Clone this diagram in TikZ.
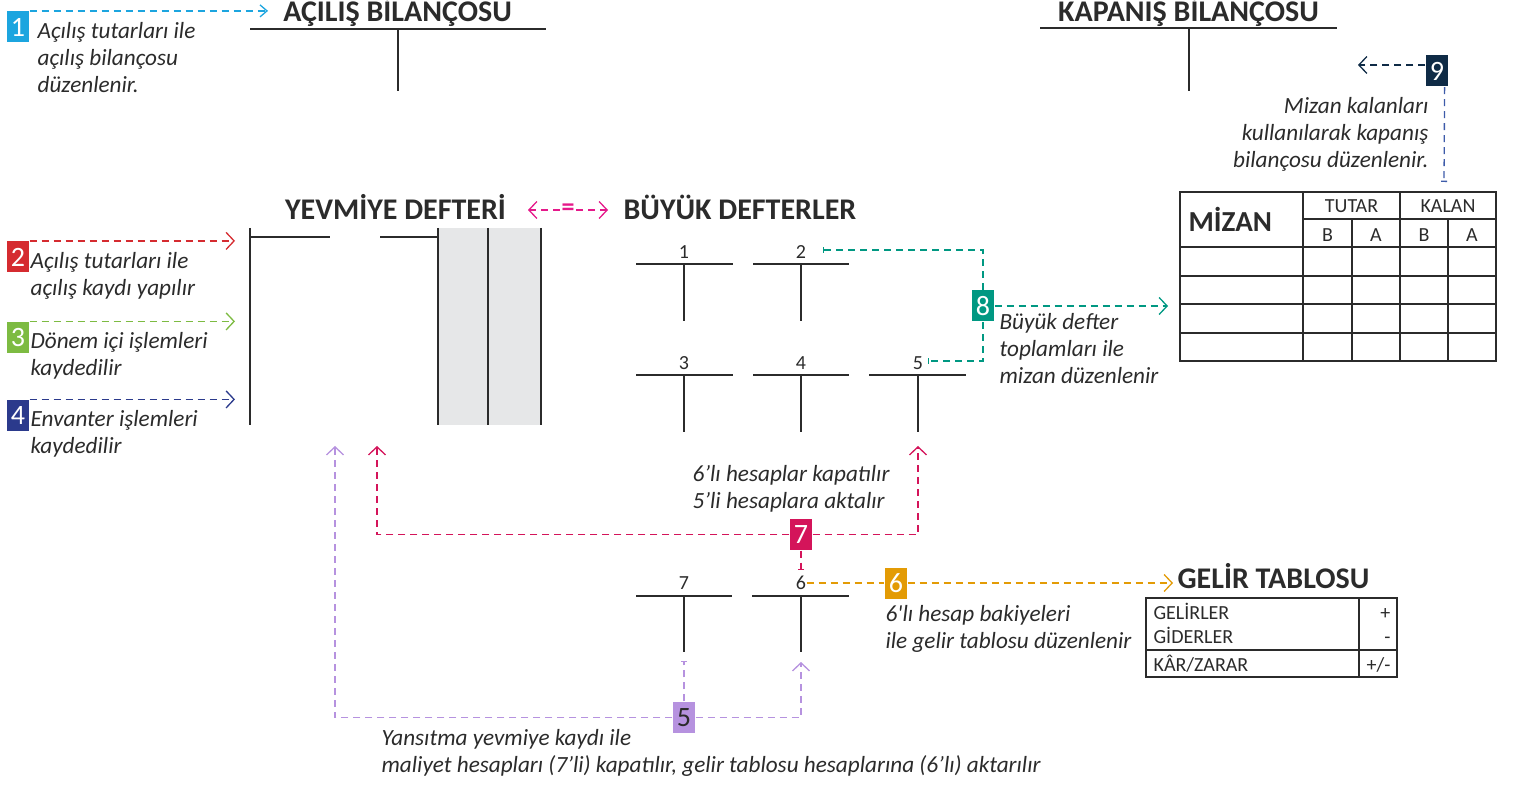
\documentclass[tikz,border=0pt]{standalone}
\usepackage{fontspec}
\setmainfont{Carlito}
\usetikzlibrary{arrows.meta, positioning}

\definecolor{inkgrey}{HTML}{2B2B2B}
\definecolor{jgrey}{HTML}{E6E7E8}
\definecolor{cyanB}{HTML}{1CA5DF}
\definecolor{redB}{HTML}{D52B30}
\definecolor{greenB}{HTML}{7DBB42}
\definecolor{blueB}{HTML}{2B3A8C}
\definecolor{magB}{HTML}{E5198A}
\definecolor{tealB}{HTML}{009882}
\definecolor{pinkB}{HTML}{D4145A}
\definecolor{orangeB}{HTML}{E39B05}
\definecolor{lavB}{HTML}{B692DF}
\definecolor{navyB}{HTML}{0F2B46}
\definecolor{navyL}{HTML}{3D5BA9}

\begin{document}
\begin{tikzpicture}[x=0.5pt, y=-0.5pt, line width=0.6pt,
    >={Straight Barb[length=4pt,width=8.5pt]},
    badge/.style={fill=#1, text=white, minimum width=11pt, minimum height=15.5pt, inner sep=0pt, font=\fontsize{14}{14}\selectfont},
    note/.style={font=\itshape\fontsize{11.6}{13.5}\selectfont, text=inkgrey, align=left, anchor=base west, inner sep=0pt},
    heading/.style={font=\bfseries\fontsize{15}{16}\selectfont, text=inkgrey, inner sep=0pt},
    celltext/.style={font=\fontsize{10}{11}\selectfont, text=inkgrey, inner sep=0pt},
    flowline/.style={draw=#1, line width=0.65pt, dash pattern=on 3.5pt off 2.5pt},
    tline/.style={draw=inkgrey, line width=1pt},
    tabline/.style={draw=inkgrey, line width=0.75pt}]
    \useasboundingbox (0,0) rectangle (1514,785);

    % Acilis bilancosu
    \node[heading, anchor=base] (acilisT) at (397.5,22) {AÇILIŞ BİLANÇOSU};
    \draw[tline] (250,29) -- (546,29);
    \draw[tline] (398,29) -- (398,91);
    \node[badge=cyanB] (b1) at (18,27) {1};
    \coordinate (acilisIn) at (268,13);
    \draw[flowline=cyanB, -{Straight Barb[length=3.5pt,width=6pt]}] (b1.north east) -- (b1.north east -| acilisIn);
    \node[note] (n1) at (37,92.5) {Açılış tutarları ile\\açılış bilançosu\\düzenlenir.};

    % Kapanis bilancosu
    \node[heading, anchor=base] (kapanisT) at (1188.5,22) {KAPANIŞ BİLANÇOSU};
    \draw[tline] (1040,28) -- (1337,28);
    \draw[tline] (1189,28) -- (1189,91);
    \node[badge=navyB] (b9) at (1437,71) {9};
    \coordinate (kapanisIn) at (1358,65);
    \coordinate (mizanTop) at (1444,182);
    \draw[flowline=navyB, ->] ([yshift=3pt]b9.west) -- ([yshift=3pt]b9.west -| kapanisIn);
    \draw[flowline=navyL, -{Bar[width=3pt]}] ([xshift=-2pt]b9.south east) -- (mizanTop);
    \node[note, anchor=base east, align=right] (n9) at (1429,168) {Mizan kalanları\\kullanılarak kapanış\\bilançosu düzenlenir.};

    % Mizan
    \draw[tabline] (1180,192) rectangle (1496,361);
    \draw[tabline] (1303,192) -- (1303,361);
    \draw[tabline] (1352,219) -- (1352,361);
    \draw[tabline] (1400,192) -- (1400,361);
    \draw[tabline] (1448,219) -- (1448,361);
    \draw[tabline] (1303,219) -- (1496,219);
    \draw[tabline] (1180,247) -- (1496,247);
    \draw[tabline] (1180,276) -- (1496,276);
    \draw[tabline] (1180,304) -- (1496,304);
    \draw[tabline] (1180,333) -- (1496,333);
    \node[heading, font=\bfseries\fontsize{14.5}{16}\selectfont, anchor=base west] (mizanT) at (1188,232) {MİZAN};
    \node[celltext, anchor=base] (tutar) at (1351.5,213) {TUTAR};
    \node[celltext, anchor=base] (kalan) at (1448,213) {KALAN};
    \node[celltext, anchor=base] (tb) at (1327.5,242) {B};
    \node[celltext, anchor=base] (ta) at (1376,242) {A};
    \node[celltext, anchor=base] (kb) at (1424,242) {B};
    \node[celltext, anchor=base] (ka) at (1472,242) {A};

    % Yevmiye defteri
    \node[heading, anchor=base] (yevmiyeT) at (395.5,220) {YEVMİYE DEFTERİ};
    \fill[jgrey] (438,228) rectangle (541,425);
    \draw[tline, line width=0.8pt] (250,228) -- (250,425);
    \draw[tline, line width=0.8pt] (250,237) -- (330,237);
    \draw[tline, line width=0.8pt] (380,237) -- (438,237);
    \draw[tline, line width=0.8pt] (438,228) -- (438,425);
    \draw[tline, line width=0.8pt] (488,228) -- (488,425);
    \draw[tline, line width=0.8pt] (541,228) -- (541,425);
    \coordinate (yevmiyeIn) at (235,243);
    \node[badge=redB] (b2) at (18,257) {2};
    \node[badge=greenB] (b3) at (18,337.5) {3};
    \node[badge=blueB] (b4) at (18,415.5) {4};
    \draw[flowline=redB, ->] (b2.north east) -- (b2.north east -| yevmiyeIn);
    \draw[flowline=greenB, ->] (b3.north east) -- (b3.north east -| yevmiyeIn);
    \draw[flowline=blueB, ->] (b4.north east) -- (b4.north east -| yevmiyeIn);
    \node[note] (n2) at (30,296) {Açılış tutarları ile\\açılış kaydı yapılır};
    \node[note] (n3) at (30,376) {Dönem içi işlemleri\\kaydedilir};
    \node[note] (n4) at (30,454) {Envanter işlemleri\\kaydedilir};

    % Buyuk defterler
    \node[heading, anchor=base west] (buyukT) at (623,220) {BÜYÜK DEFTERLER};
    \node[text=magB, font=\bfseries\fontsize{13}{13}\selectfont, inner sep=0.5pt] (eq) at (568,210) {=};
    \coordinate (eqL) at (528,211);
    \coordinate (eqR) at (608,211);
    \draw[flowline=magB, ->] (eq.west) -- (eq.west -| eqL);
    \draw[flowline=magB, ->] (eq.east) -- (eq.east -| eqR);
    \node[celltext] (l1) at (684,252) {1};
    \node[celltext] (l2) at (801,252) {2};
    \node[celltext] (l3) at (684,363) {3};
    \node[celltext] (l4) at (801,363) {4};
    \node[celltext] (l5) at (918,363) {5};
    \draw[tline] (636,264) -- (733,264);  \draw[tline] (684,264) -- (684,321);
    \draw[tline] (753,264) -- (849,264);  \draw[tline] (801,264) -- (801,321);
    \draw[tline] (636,375) -- (733,375);  \draw[tline] (684,375) -- (684,432);
    \draw[tline] (753,375) -- (849,375);  \draw[tline] (801,375) -- (801,432);
    \draw[tline] (869,375) -- (966,375);  \draw[tline] (918,375) -- (918,432);

    % 8: mizan
    \node[badge=tealB] (b8) at (983,306) {8};
    \coordinate (tee2) at (823,250);
    \coordinate (tee5) at (928,361);
    \coordinate (mizanIn) at (1168,306);
    \draw[flowline=tealB, -{Bar[width=3pt]}] (b8.north) |- (tee2);
    \draw[flowline=tealB, -{Bar[width=3pt]}] (b8.south) |- (tee5);
    \draw[flowline=tealB, ->] (b8.east) -- (mizanIn);
    \node[note] (n8) at (999,384) {Büyük defter\\toplamları ile\\mizan düzenlenir};

    % 7: kapanis kaydi
    \node[badge=pinkB] (b7) at (801,534.5) {7};
    \coordinate (up7l) at (377,446);
    \coordinate (up7r) at (918,446);
    \coordinate (tee6) at (801,570);
    \draw[flowline=pinkB, ->] (b7.west) -| (up7l);
    \draw[flowline=pinkB, ->] (b7.east) -| (up7r);
    \draw[flowline=pinkB, -{Bar[width=3pt]}] (b7.south) -- (tee6);
    \node[note] (n7) at (692,509) {6’lı hesaplar kapatılır\\5’li hesaplara aktalır};

    % 7 ve 6 hesaplar
    \node[celltext] (l7) at (684,583) {7};
    \node[celltext] (l6) at (801,583) {6};
    \draw[tline] (636,596) -- (732,596);  \draw[tline] (684,596) -- (684,652);
    \draw[tline] (752,596) -- (849,596);  \draw[tline] (801,596) -- (801,652);

    % 6: gelir tablosu
    \node[badge=orangeB] (b6) at (896,583) {6};
    \coordinate (gelirIn) at (1173,583);
    \draw[flowline=orangeB] (l6.east) -- (b6.west);
    \draw[flowline=orangeB, ->] (b6.east) -- (gelirIn);
    \node[note] (n6) at (885,648) {6\textquotesingle lı hesap bakiyeleri\\ile gelir tablosu düzenlenir};
    \node[heading, anchor=base west] (gelirT) at (1177,588) {GELİR TABLOSU};
    \draw[tabline] (1146,598) rectangle (1397,677);
    \draw[tabline] (1359,598) -- (1359,677);
    \draw[tabline] (1146,650) -- (1397,650);
    \node[celltext, anchor=base west] (gelirler) at (1153,619) {GELİRLER};
    \node[celltext, anchor=base west] (giderler) at (1153,643) {GİDERLER};
    \node[celltext, anchor=base west] (karzarar) at (1153,671) {KÂR/ZARAR};
    \node[celltext, anchor=base east] (arti) at (1391,619) {+};
    \node[celltext, anchor=base east] (eksi) at (1391,643) {-};
    \node[celltext, anchor=base east] (artieksi) at (1391,671) {+/-};

    % 5: yansitma
    \node[badge=lavB, text=inkgrey] (b5) at (684,717.5) {5};
    \coordinate (up5l) at (335,446);
    \coordinate (up5r) at (801,662);
    \coordinate (tee7) at (684,661);
    \draw[flowline=lavB, ->] (b5.west) -| (up5l);
    \draw[flowline=lavB, ->] (b5.east) -| (up5r);
    \draw[flowline=lavB, -{Bar[width=3pt]}] (b5.north) -- (tee7);
    \node[note] (n5) at (381,772) {Yansıtma yevmiye kaydı ile\\maliyet hesapları (7’li) kapatılır, gelir tablosu hesaplarına (6’lı) aktarılır};
\end{tikzpicture}
\end{document}
